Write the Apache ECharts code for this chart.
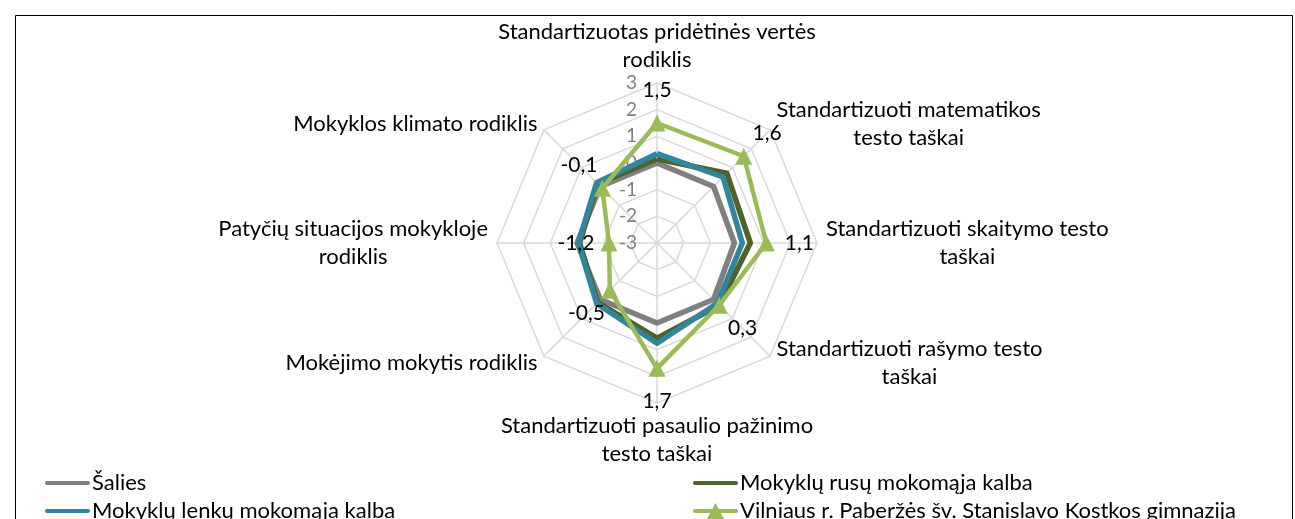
<!DOCTYPE html>
<html>
<head>
<meta charset="utf-8">
<script src="https://cdn.jsdelivr.net/npm/echarts@6/dist/echarts.min.js"></script>
<style>html,body{margin:0;padding:0;background:#fff}#c{width:1295px;height:519px}</style>
</head>
<body>
<div id="c"></div>
<script>
// Categories in clockwise order starting from the top
const categories = [
  'Standartizuotas pridėtinės vertės\nrodiklis',
  'Standartizuoti matematikos\ntesto taškai',
  'Standartizuoti skaitymo testo\ntaškai',
  'Standartizuoti rašymo testo\ntaškai',
  'Standartizuoti pasaulio pažinimo\ntesto taškai',
  'Mokėjimo mokytis rodiklis',
  'Patyčių situacijos mokykloje\nrodiklis',
  'Mokyklos klimato rodiklis'
];
const seriesNames = [
  'Šalies',
  'Mokyklų rusų mokomąja kalba',
  'Mokyklų lenkų mokomąja kalba',
  'Vilniaus r. Paberžės šv. Stanislavo Kostkos gimnazija'
];
const salies   = [0, 0, -0.1, 0, 0, 0, 0, 0];
const rusu     = [0.15, 0.7, 0.5, 0.3, 0.57, 0.15, -0.1, 0.15];
const lenku    = [0.35, 0.5, 0.2, 0.2, 0.76, 0.2, -0.05, 0.2];
const vilniaus = [1.5, 1.6, 1.1, 0.3, 1.7, -0.5, -1.2, -0.1];
const axisMin = -3, axisMax = 3;

const FONT = 'Lato';
const CX = 657, CY = 243, R = 160;
// ECharts lays radar indicators counter-clockwise; reorder to get clockwise order
const ORDER = [0, 7, 6, 5, 4, 3, 2, 1];
const reorder = a => ORDER.map(i => a[i]);

const rich = { c: { align: 'center', fontFamily: FONT, fontSize: 22, color: '#000', lineHeight: 28 } };
const tickLabelStyle = { color: '#808080', fontFamily: FONT, fontSize: 19, margin: 20 };
const indicator = reorder(categories).map((name, k) => {
  const ind = { name: name, min: axisMin, max: axisMax };
  if (k === 0) ind.axisLabel = Object.assign({ show: true }, tickLabelStyle);
  return ind;
});

const colors = ['#808080', '#4f6228', '#31859c', '#9bbb59'];
const lineIcon = 'path://M2,0 H43 A2,2 0 0 1 43,4 H2 A2,2 0 0 1 2,0 Z';
const lineIconTall = 'path://M0,0 L0.01,0 L0,0.01 Z M2,6 H43 A2,2 0 0 1 43,10 H2 A2,2 0 0 1 2,6 Z M45,16 L44.99,16 L45,15.99 Z';
const triIcon = 'path://M2,6 H43 A2,2 0 0 1 43,10 H2 A2,2 0 0 1 2,6 Z M22.5,0 L31,16 L14,16 Z';

const datasets = [salies, rusu, lenku, vilniaus];
const series = datasets.map((vals, i) => {
  const isV = i === 3;
  return {
    type: 'radar',
    z: 2 + i,
    symbol: isV ? 'triangle' : 'none',
    symbolSize: 17,
    lineStyle: { color: colors[i], width: isV ? 4.5 : 5.5 },
    itemStyle: { color: colors[i] },
    label: isV ? {
      show: true,
      fontFamily: FONT, fontSize: 21, color: '#000',
      formatter: p => Number(p.value).toFixed(1).replace('.', ',')
    } : { show: false },
    labelLayout: isV ? function (p) {
      const x = p.rect.x + p.rect.width / 2;
      const y = p.rect.y + p.rect.height / 2;
      const a = Math.atan2(y - CY, x - CX);
      return { x: x + Math.cos(a) * 33, y: y + Math.sin(a) * 33, align: 'center', verticalAlign: 'middle' };
    } : undefined,
    emphasis: { disabled: true },
    data: [{ name: seriesNames[i], value: reorder(vals) }]
  };
});

const legendText = { fontFamily: FONT, fontSize: 22, color: '#000', lineHeight: 24, padding: [0, 0, 0, -3] };

const chart = echarts.init(document.getElementById('c'), null, { renderer: 'canvas' });
chart.setOption({
  animation: false,
  backgroundColor: '#fff',
  textStyle: { fontFamily: FONT },
  radar: {
    center: [CX, CY],
    radius: R,
    startAngle: 90,
    splitNumber: 6,
    shape: 'polygon',
    axisName: {
      color: '#000',
      fontFamily: FONT,
      fontSize: 22,
      formatter: v => v.split('\n').map(s => '{c|' + s + '}').join('\n'),
      rich: rich
    },
    nameGap: 9,
    axisLine: { lineStyle: { color: '#d9d9d9', width: 1.5 } },
    splitLine: { lineStyle: { color: '#d9d9d9', width: 1.5 } },
    splitArea: { show: false },
    axisTick: { show: false },
    axisLabel: Object.assign({ show: false }, tickLabelStyle),
    indicator: indicator
  },
  legend: [
    {
      orient: 'vertical', left: 45, top: 471, height: 80, padding: 0,
      itemWidth: 45, itemHeight: 5, itemGap: 4,
      textStyle: legendText,
      selectedMode: false,
      data: [
        { name: seriesNames[0], icon: lineIcon },
        { name: seriesNames[2], icon: lineIcon }
      ]
    },
    {
      orient: 'vertical', left: 693, top: 471, height: 80, padding: 0,
      itemWidth: 45, itemHeight: 16, itemGap: 4,
      textStyle: legendText,
      selectedMode: false,
      data: [
        { name: seriesNames[1], icon: lineIconTall },
        { name: seriesNames[3], icon: triIcon }
      ]
    }
  ],
  graphic: [{
    type: 'rect', left: 13, top: 13, silent: true,
    shape: { width: 1277, height: 540 },
    style: { fill: 'none', stroke: '#000', lineWidth: 1 }
  }],
  series: series
});
</script>
</body>
</html>
